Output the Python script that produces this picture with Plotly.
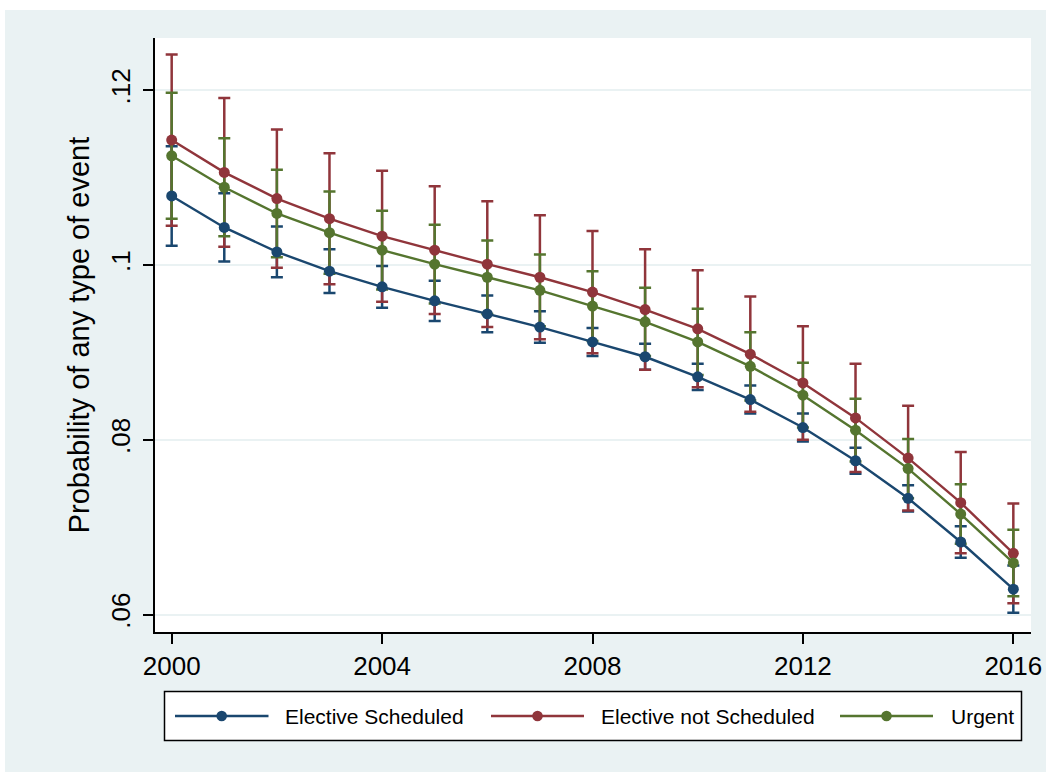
import plotly.graph_objects as go

years = [2000, 2001, 2002, 2003, 2004, 2005, 2006, 2007, 2008,
         2009, 2010, 2011, 2012, 2013, 2014, 2015, 2016]

elective_sched = [0.1079, 0.1043, 0.1015, 0.0993, 0.0975, 0.0959, 0.0944, 0.0929, 0.0912,
                  0.0895, 0.0872, 0.0846, 0.0814, 0.0776, 0.0733, 0.0683, 0.0629]
elective_sched_ci = [0.0057, 0.0039, 0.0029, 0.0025, 0.0024, 0.0023, 0.0021, 0.0018, 0.0016,
                     0.0015, 0.0015, 0.0016, 0.0016, 0.0015, 0.0015, 0.0018, 0.0027]

elective_not_sched = [0.1143, 0.1106, 0.1076, 0.1053, 0.1033, 0.1017, 0.1001, 0.0986, 0.0969,
                      0.0949, 0.0927, 0.0898, 0.0865, 0.0825, 0.0779, 0.0728, 0.0670]
elective_not_sched_ci = [0.0098, 0.0085, 0.0079, 0.0075, 0.0075, 0.0073, 0.0072, 0.0071, 0.0070,
                         0.0069, 0.0067, 0.0066, 0.0065, 0.0062, 0.0060, 0.0058, 0.0057]

urgent = [0.1125, 0.1089, 0.1059, 0.1037, 0.1017, 0.1001, 0.0986, 0.0971, 0.0953,
          0.0935, 0.0912, 0.0884, 0.0851, 0.0811, 0.0767, 0.0715, 0.0659]
urgent_ci = [0.0072, 0.0056, 0.0050, 0.0047, 0.0045, 0.0045, 0.0042, 0.0041, 0.0040,
             0.0039, 0.0038, 0.0039, 0.0037, 0.0036, 0.0034, 0.0034, 0.0038]

series_names = ["Elective Scheduled", "Elective not Scheduled", "Urgent"]
series_colors = ["#1a476f", "#90353b", "#55752f"]

x_tickvals = [2000, 2004, 2008, 2012, 2016]
x_ticktext = ["2000", "2004", "2008", "2012", "2016"]
y_tickvals = [0.06, 0.08, 0.10, 0.12]
y_ticktext = [".06", ".08", ".1", ".12"]

y_title = "Probability of any type of event"

FONT = "Liberation Sans, Arial, sans-serif"
W, H = 1046, 772
L, R, T, B = 155, 15, 38, 140
PW, PH = W - L - R, H - T - B


def px_x(p):
    return (p - L) / PW


def px_y(p):
    return (H - B - p) / PH


series = [
    (elective_sched, elective_sched_ci),
    (elective_not_sched, elective_not_sched_ci),
    (urgent, urgent_ci),
]

fig = go.Figure()

# confidence-interval caps first (below all lines/markers)
for (vals, ci), name, col in zip(series, series_names, series_colors):
    fig.add_trace(go.Scatter(
        x=years, y=vals, mode="markers",
        marker=dict(size=1, color="rgba(0,0,0,0)"),
        error_y=dict(type="data", array=ci, visible=True, color=col,
                     thickness=2.5, width=6),
        showlegend=False, hoverinfo="skip",
    ))

for (vals, ci), name, col in zip(series, series_names, series_colors):
    fig.add_trace(go.Scatter(
        x=years, y=vals, mode="lines+markers", name=name,
        line=dict(color=col, width=2.4),
        marker=dict(color=col, size=11, symbol="circle"),
        showlegend=False,
    ))

shapes = [
    # outer graph region (light blue-grey)
    dict(type="rect", xref="paper", yref="paper", layer="below",
         x0=px_x(5), x1=px_x(W + 2), y0=px_y(H + 2), y1=px_y(10),
         fillcolor="#eaf2f3", line=dict(width=0)),
    # plot region (white)
    dict(type="rect", xref="paper", yref="paper", layer="below",
         x0=0, x1=1, y0=0, y1=1, fillcolor="white", line=dict(width=0)),
    # legend box
    dict(type="rect", xref="paper", yref="paper",
         x0=px_x(164.5), x1=px_x(1021.5), y0=px_y(740.5), y1=px_y(691.5),
         fillcolor="white", line=dict(color="black", width=1.5)),
]

annotations = []
leg_y = 716
leg_items = [
    (175, 268.5, 221.7, 283),
    (491, 584, 537.5, 599),
    (840, 933, 886.5, 948.5),
]
for (x0, x1, xm, xt), name, col in zip(leg_items, series_names, series_colors):
    shapes.append(dict(type="line", xref="paper", yref="paper",
                       x0=px_x(x0), x1=px_x(x1), y0=px_y(leg_y), y1=px_y(leg_y),
                       line=dict(color=col, width=2.5)))
    shapes.append(dict(type="circle", xref="paper", yref="paper",
                       x0=px_x(xm - 5.3), x1=px_x(xm + 5.3),
                       y0=px_y(leg_y + 5.3), y1=px_y(leg_y - 5.3),
                       fillcolor=col, line=dict(color=col, width=0)))
    annotations.append(dict(xref="paper", yref="paper", x=px_x(xt), y=px_y(leg_y),
                            xanchor="left", yanchor="middle", showarrow=False,
                            text=name, font=dict(family=FONT, size=21, color="black")))

fig.update_layout(
    width=W, height=H,
    margin=dict(l=L, r=R, t=T, b=B, pad=0, autoexpand=False),
    paper_bgcolor="white", plot_bgcolor="white",
    showlegend=False,
    shapes=shapes,
    annotations=annotations,
    font=dict(family=FONT, color="black"),
)

fig.update_xaxes(
    range=[1999.683, 2016.336],
    tickvals=x_tickvals, ticktext=x_ticktext,
    showgrid=False, zeroline=False, automargin=False,
    showline=True, linecolor="black", linewidth=2,
    ticks="outside", ticklen=10, tickwidth=2, tickcolor="black",
    tickfont=dict(family=FONT, size=26, color="black"),
)
fig.update_yaxes(
    range=[0.0580, 0.12598],
    tickvals=y_tickvals, ticktext=y_ticktext,
    tickangle=-90,
    showgrid=True, gridcolor="#eaf2f3", gridwidth=2,
    zeroline=False, automargin=False,
    showline=True, linecolor="black", linewidth=2,
    ticks="outside", ticklen=10, tickwidth=2, tickcolor="black",
    tickfont=dict(family=FONT, size=26, color="black"),
    ticklabelstandoff=3,
    title=dict(text=y_title, font=dict(family=FONT, size=29, color="black"),
               standoff=7),
)

fig.write_html("out.html")
